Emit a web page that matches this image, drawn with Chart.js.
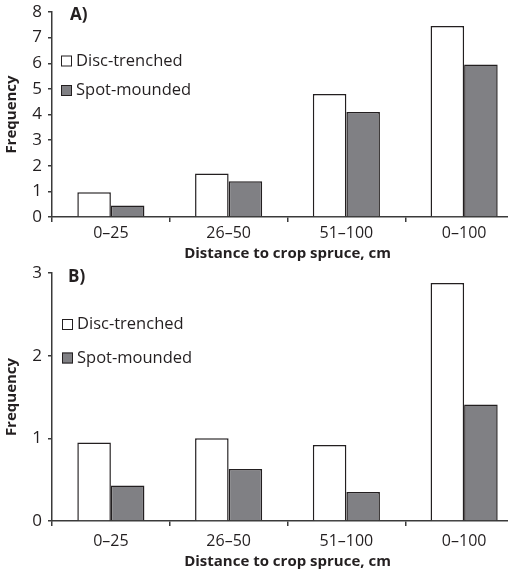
<!DOCTYPE html>
<html>
<head>
<meta charset="utf-8">
<script src="https://cdn.jsdelivr.net/npm/chart.js@4.4.1/dist/chart.umd.min.js"></script>
<style>
    html, body { margin: 0; padding: 0; background: #fff; overflow: hidden; width: 508px; height: 573px; }
    .panel { position: absolute; left: 0; }
    #panelA { top: 0; }
    #panelB { top: 265px; }
</style>
</head>
<body>
<div class="panel" id="panelA"><canvas id="chartA" width="525" height="265"></canvas></div>
<div class="panel" id="panelB"><canvas id="chartB" width="525" height="308"></canvas></div>
<script>
const categories = ["0–25", "26–50", "51–100", "0–100"];
const seriesNames = ["Disc-trenched", "Spot-mounded"];

// panel A
const discA = [0.97, 1.7, 4.8, 7.45];
const spotA = [0.45, 1.4, 4.1, 5.95];
const yTicksA = [0, 1, 2, 3, 4, 5, 6, 7, 8];

// panel B
const discB = [0.95, 1.0, 0.92, 2.88];
const spotB = [0.43, 0.63, 0.35, 1.41];
const yTicksB = [0, 1, 2, 3];

const xTitle = "Distance to crop spruce, cm";
const yTitle = "Frequency";

const textColor = "#231f20";
const axisColor = "#3a3a3a";
const fontFamily = "'Open Sans'";

Chart.defaults.font.family = fontFamily;
Chart.defaults.color = textColor;

// panel letter + in-plot legend
const panelDecor = {
    id: "panelDecor",
    afterDraw(chart, args, opts) {
        const ctx = chart.ctx;
        ctx.save();
        ctx.textBaseline = "middle";
        ctx.fillStyle = textColor;
        ctx.font = "bold 17px " + fontFamily;
        ctx.fillText(opts.label, opts.labelX, opts.labelY);
        chart.data.datasets.forEach((ds, i) => {
            const y = opts.legendY[i];
            ctx.fillStyle = ds.backgroundColor;
            ctx.fillRect(opts.legendX, y - 5.5, 11, 11);
            ctx.strokeStyle = textColor;
            ctx.lineWidth = 1;
            ctx.strokeRect(opts.legendX + 0.5, y - 5, 10, 10);
            ctx.fillStyle = textColor;
            ctx.font = "16.5px " + fontFamily;
            ctx.fillText(ds.label, opts.legendX + 15, y);
        });
        ctx.restore();
    },
};

function makePanel(canvasId, disc, spot, yTicks, lay) {
    const ctx = document.getElementById(canvasId).getContext("2d");
    return new Chart(ctx, {
        type: "bar",
        data: {
            labels: categories,
            datasets: [
                {
                    label: seriesNames[0],
                    data: disc,
                    backgroundColor: "#ffffff",
                    borderColor: textColor,
                    borderWidth: 1.5,
                },
                {
                    label: seriesNames[1],
                    data: spot,
                    backgroundColor: "#808084",
                    borderColor: textColor,
                    borderWidth: 1.5,
                },
            ],
        },
        options: {
            responsive: false,
            animation: false,
            categoryPercentage: 0.57,
            barPercentage: 1.0,
            layout: { padding: { top: lay.top, left: 0, right: 2, bottom: 0 } },
            plugins: {
                legend: { display: false },
                tooltip: { enabled: false },
                panelDecor: lay.decor,
            },
            scales: {
                x: {
                    grid: {
                        offset: true,
                        drawOnChartArea: false,
                        drawTicks: true,
                        tickLength: 5,
                        color: axisColor,
                        lineWidth: 1.5,
                    },
                    border: { color: axisColor, width: 1.5 },
                    ticks: {
                        font: { size: 16 },
                        color: textColor,
                        padding: lay.xTickPad,
                        maxRotation: 0,
                        autoSkip: false,
                    },
                    title: {
                        display: true,
                        text: xTitle,
                        font: { size: 15, weight: "bold" },
                        color: textColor,
                        padding: { top: 0, bottom: lay.xTitlePad },
                    },
                    afterFit(s) {
                        s.height = lay.xHeight;
                        s.paddingLeft = 0;
                        s.paddingRight = 0;
                    },
                },
                y: {
                    min: yTicks[0],
                    max: yTicks[yTicks.length - 1],
                    afterBuildTicks(s) {
                        s.ticks = yTicks.map((v) => ({ value: v }));
                    },
                    grid: {
                        drawOnChartArea: false,
                        drawTicks: true,
                        tickLength: 4,
                        color: axisColor,
                        lineWidth: 1.5,
                    },
                    border: { color: axisColor, width: 1.5 },
                    ticks: { font: { size: 17 }, color: textColor, padding: 6 },
                    title: {
                        display: true,
                        text: yTitle,
                        font: { size: 15, weight: "bold" },
                        color: textColor,
                        padding: { top: 3, bottom: 0 },
                    },
                    afterFit(s) {
                        s.width = 52;
                        s.paddingTop = 0;
                        s.paddingBottom = 0;
                    },
                },
            },
        },
        plugins: [panelDecor],
    });
}

makePanel("chartA", discA, spotA, yTicksA, {
    top: 12,
    xHeight: 48,
    xTickPad: 2,
    xTitlePad: 2,
    decor: { label: "A)", labelX: 70, labelY: 15, legendX: 61, legendY: [61, 90.5] },
});

makePanel("chartB", discB, spotB, yTicksB, {
    top: 8,
    xHeight: 52,
    xTickPad: 6,
    xTitlePad: 2,
    decor: { label: "B)", labelX: 68, labelY: 12.5, legendX: 62, legendY: [59.5, 93] },
});
</script>
</body>
</html>
